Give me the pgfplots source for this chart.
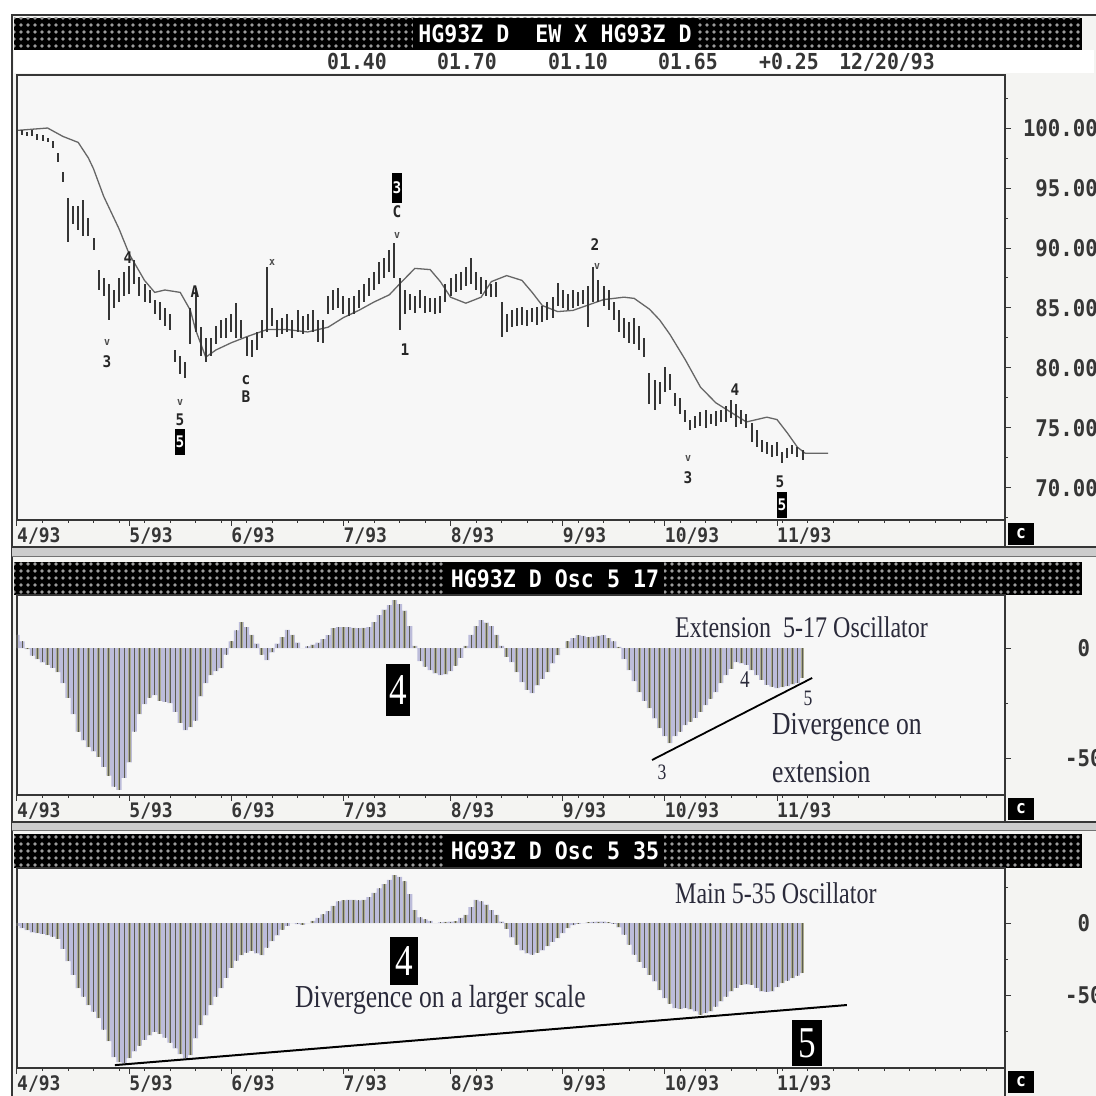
\documentclass[border=0pt]{standalone}
\usepackage{pgfplots}
\pgfplotsset{compat=1.18}
\usepackage{pgfplotstable}
\usepackage{fontspec}
\setmainfont{Liberation Serif}
\newfontfamily\mono{DejaVu Sans Mono}[FakeStretch=0.9]
\newfontfamily\ser{Liberation Serif}[FakeStretch=0.8]
\usetikzlibrary{patterns.meta}

\definecolor{bgc}{HTML}{F4F4F2}
\definecolor{plotbg}{HTML}{F7F7F7}
\definecolor{frame}{HTML}{363636}
\definecolor{pricec}{HTML}{353535}
\definecolor{mac}{HTML}{666666}
\definecolor{lav}{HTML}{BCBCDA}
\definecolor{khaki}{HTML}{ABAB8E}
\definecolor{stripe}{HTML}{5C5C50}
\definecolor{annot}{HTML}{2A2A3A}
\definecolor{barg}{HTML}{9C9C9C}

\newcommand\mf[1]{\mono\bfseries\fontsize{#1}{#1}\selectfont}
\newcommand\sr[1]{\ser\fontsize{#1}{#1}\selectfont}

% daily high/low of HG93Z
\pgfplotstableread{
i lo hi
0 99.5 99.9
1 99.4 99.8
2 99.3 99.7
3 99.3 99.8
4 99.0 99.5
5 98.9 99.4
6 98.8 99.2
7 98.3 98.9
8 97.2 97.9
9 95.5 96.3
10 90.5 94.2
11 92.0 93.5
12 91.5 93.5
13 91.0 94.0
14 91.0 92.5
15 89.8 90.8
16 86.5 88.2
17 86.0 87.5
18 84.0 87.0
19 85.0 86.5
20 85.5 87.5
21 86.0 88.0
22 86.2 88.5
23 87.0 89.0
24 86.0 87.6
25 85.5 87.0
26 85.4 86.5
27 84.5 85.7
28 84.0 85.5
29 83.5 85.0
30 83.2 84.5
31 80.5 81.5
32 79.5 81.0
33 79.2 80.5
34 82.0 85.0
35 83.0 86.7
36 81.0 83.4
37 80.5 82.5
38 81.0 82.5
39 82.0 83.5
40 82.5 84.0
41 82.5 84.2
42 83.0 84.5
43 82.5 85.4
44 82.5 84.0
45 81.0 82.6
46 80.9 82.3
47 81.5 83.0
48 82.5 84.0
49 83.0 88.4
50 83.5 85.0
51 82.6 84.0
52 82.8 84.2
53 83.0 84.5
54 82.5 84.0
55 83.0 84.8
56 82.8 84.3
57 83.2 84.5
58 83.0 84.8
59 82.2 84.0
60 82.1 84.0
61 84.5 86.0
62 84.8 86.5
63 85.0 86.7
64 84.5 86.0
65 84.3 85.8
66 84.5 86.0
67 85.0 86.5
68 85.5 87.0
69 86.0 87.5
70 86.5 88.0
71 87.0 88.8
72 87.5 89.2
73 88.0 89.8
74 87.5 90.4
75 83.2 87.5
76 84.5 86.5
77 84.8 86.2
78 84.6 86.0
79 85.0 86.5
80 84.6 86.0
81 84.7 85.8
82 84.5 85.8
83 84.6 86.0
84 85.5 87.0
85 86.0 87.5
86 86.3 87.8
87 86.5 88.0
88 86.8 88.4
89 87.0 89.2
90 86.5 88.0
91 86.2 87.6
92 86.0 87.3
93 85.9 87.0
94 85.9 87.2
95 82.6 85.5
96 83.0 84.5
97 83.4 84.8
98 83.5 85.0
99 83.6 85.1
100 83.5 84.8
101 83.8 85.0
102 83.6 85.1
103 83.8 85.2
104 84.0 85.5
105 84.2 85.9
106 85.2 87.1
107 85.0 86.5
108 84.8 86.2
109 85.0 86.5
110 85.2 86.3
111 85.3 86.5
112 83.4 86.8
113 85.5 88.4
114 85.5 87.3
115 85.2 86.8
116 84.8 86.5
117 84.0 85.5
118 83.0 84.8
119 82.5 84.2
120 82.1 83.8
121 82.0 84.2
122 81.5 83.5
123 80.9 82.5
124 77.0 79.6
125 76.5 79.0
126 77.0 78.8
127 78.0 80.1
128 78.2 79.5
129 76.8 77.9
130 76.2 77.5
131 75.5 76.5
132 74.8 75.7
133 75.0 76.0
134 75.2 76.3
135 75.0 76.5
136 75.3 76.2
137 75.2 76.4
138 75.5 76.5
139 75.5 76.8
140 75.8 77.3
141 75.1 77.0
142 75.3 76.5
143 75.0 76.2
144 73.8 75.4
145 73.4 74.8
146 73.0 74.0
147 72.8 73.8
148 72.6 73.6
149 72.7 73.8
150 72.1 73.0
151 72.5 73.3
152 72.8 73.6
153 72.6 73.4
154 72.3 73.2
}\price

% moving average
\pgfplotstableread{
i ma
0 99.8
3 99.9
6 100.0
9 99.3
12 98.8
14 97.5
15 96.6
17 94.3
20 91.6
22 89.5
25 87.3
27 86.3
29 86.5
32 86.3
34 84.8
35 83.2
37 80.9
39 81.5
42 82.1
45 82.6
49 83.2
53 83.2
57 83.0
61 83.4
64 84.2
67 84.8
70 85.5
73 86.1
75 87.0
78 88.3
81 88.2
83 87.2
85 85.9
88 85.4
91 85.9
93 87.2
96 87.7
99 87.3
101 86.3
103 85.2
106 84.7
109 84.8
111 85.1
115 85.7
119 85.9
121 85.8
124 84.9
126 84.0
128 82.8
131 80.7
134 78.4
137 77.1
140 76.3
143 75.5
145 75.7
147 75.9
149 75.7
151 74.6
153 73.4
154.5 72.9
159 72.9
}\mavg

% oscillator 5-17
\pgfplotstableread{
i v
0 60
1 30
2 -5
3 -35
4 -50
5 -65
6 -77
7 -90
8 -110
9 -160
10 -227
11 -300
12 -380
13 -420
14 -450
15 -470
16 -495
17 -540
18 -580
19 -630
20 -645
21 -590
22 -520
23 -380
24 -300
25 -255
26 -225
27 -214
28 -240
29 -245
30 -250
31 -290
32 -340
33 -373
34 -360
35 -330
36 -220
37 -160
38 -123
39 -105
40 -91
41 -30
42 30
43 80
44 118
45 95
46 60
47 20
48 -30
49 -55
50 -20
51 20
52 50
53 82
54 60
55 25
56 0
57 8
58 15
59 25
60 40
61 59
62 90
63 95
64 95
65 95
66 92
67 91
68 92
69 95
70 118
71 150
72 175
73 195
74 218
75 200
76 170
77 100
78 10
79 -60
80 -85
81 -100
82 -115
83 -123
84 -120
85 -105
86 -80
87 -45
88 10
89 60
90 100
91 127
92 115
93 100
94 60
95 10
96 -40
97 -64
98 -110
99 -155
100 -190
101 -205
102 -170
103 -140
104 -109
105 -70
106 -32
107 0
108 30
109 45
110 59
111 55
112 50
113 52
114 56
115 59
116 45
117 30
118 5
119 -50
120 -100
121 -150
122 -200
123 -240
124 -273
125 -320
126 -364
127 -400
128 -432
129 -400
130 -380
131 -350
132 -335
133 -318
134 -290
135 -259
136 -230
137 -200
138 -160
139 -123
140 -95
141 -64
142 -70
143 -77
144 -100
145 -123
146 -145
147 -168
148 -175
149 -182
150 -178
151 -173
152 -165
153 -159
154 -136
}\oscA

% oscillator 5-35
\pgfplotstableread{
i v
0 -20
1 -35
2 -50
3 -65
4 -70
5 -75
6 -83
7 -95
8 -110
9 -180
10 -264
11 -360
12 -451
13 -510
14 -569
15 -615
16 -659
17 -740
18 -819
19 -930
20 -965
21 -972
22 -937
23 -890
24 -850
25 -810
26 -780
27 -755
28 -770
29 -795
30 -830
31 -870
32 -910
33 -937
34 -916
35 -800
36 -708
37 -640
38 -569
39 -510
40 -451
41 -380
42 -312
43 -260
44 -222
45 -205
46 -194
47 -210
48 -222
49 -170
50 -125
51 -85
52 -46
53 -20
54 0
55 -8
56 -12
57 0
58 15
59 35
60 60
61 83
62 120
63 150
64 158
65 160
66 160
67 158
68 160
69 180
70 210
71 240
72 270
73 300
74 333
75 320
76 290
77 200
78 90
79 40
80 25
81 15
82 0
83 5
84 8
85 10
86 12
87 35
88 56
89 110
90 160
91 150
92 127
93 90
94 56
95 10
96 -40
97 -100
98 -150
99 -190
100 -210
101 -220
102 -205
103 -190
104 -160
105 -130
106 -104
107 -70
108 -35
109 -15
110 -5
111 0
112 5
113 8
114 10
115 10
116 5
117 -5
118 -30
119 -81
120 -150
121 -220
122 -270
123 -312
124 -360
125 -405
126 -465
127 -521
128 -560
129 -590
130 -595
131 -590
132 -600
133 -613
134 -636
135 -625
136 -613
137 -580
138 -544
139 -510
140 -475
141 -450
142 -428
143 -425
144 -428
145 -450
146 -475
147 -478
148 -475
149 -445
150 -417
151 -400
152 -382
153 -365
154 -347
}\oscB

\pgfplotsset{
  panel/.style={
    anchor=south west, scale only axis, width=988pt,
    xmin=0, xmax=193.7,
    axis background/.style={fill=plotbg},
    axis line style={draw=frame, line width=1.4pt},
    xtick={0,22,42,64,85,107,127,149},
    xticklabels={4/93,5/93,6/93,7/93,8/93,9/93,10/93,11/93},
    minor xtick={5,10,...,190},
    xtick pos=bottom, ytick pos=right,
    tick align=outside,
    major tick length=6pt, minor tick length=3pt,
    tick style={frame, line width=1pt},
    xticklabel style={anchor=north west, inner sep=0pt, xshift=0pt, yshift=-1pt, text=frame, font=\mf{20}},
    yticklabel style={inner sep=0pt, text=frame, font=\mf{23}},
    filter discard warning=false,
  },
  osc/.style={
    panel, height=200pt,
    ytick={-500,0}, yticklabels={-500,\phantom{-}0},
    yticklabel style={anchor=west, xshift=54pt},
  },
}

\newcommand\titlebar[4]{%
  \fill[black] (14,#1) rectangle (1082,#2);
  \fill[pattern={Dots[distance=7pt,radius=1.9pt]}, pattern color=barg] (14,#1) rectangle (1082,#2);
  \node[fill=black, text=white, inner xsep=5pt, inner ysep=0pt, minimum height=#4] at (555,{(#1+#2)/2}) {\mf{24}#3};
}
\newcommand\cbox[1]{%
  \fill[black] (1008,#1) rectangle (1034,{#1+22});
  \node[text=white, font=\mf{18}] at (1021,{#1+11}) {c};
}

\begin{document}
\begin{tikzpicture}[x=1pt,y=1pt]
\useasboundingbox (0,0) rectangle (1096,1096);
\fill[white] (0,0) rectangle (1096,1096);
\fill[bgc] (12,0) rectangle (1096,1081);

% frame
\draw[frame, line width=2pt] (12,0) -- (12,1081) -- (1096,1081);

% header rows
\titlebar{1046}{1078}{HG93Z D~~EW X HG93Z D}{32pt}
\fill[white] (14,1023) rectangle (1094,1046);
\foreach \xx/\tt in {357/01.40, 467/01.70, 578/01.10, 688/01.65, 789/+0.25, 887/12\slash 20\slash 93}
  \node[font=\mf{22}, text=frame] at (\xx,1034) {\tt};

% ---------------- price panel ----------------
\begin{axis}[panel, at={(17pt,576pt)}, height=445pt,
  ymin=67.33, ymax=104.42,
  ytick={70,75,...,100},
  yticklabels={70.00,75.00,80.00,85.00,90.00,95.00,100.00},
  minor ytick={67.5,72.5,...,102.5},
  yticklabel style={anchor=east, xshift=87pt},
]
\addplot[mac, line width=1.3pt] table[x=i, y=ma]{\mavg};
\addplot[only marks, mark=*, mark size=0pt, pricec,
  error bars/.cd, y dir=both, y explicit, error mark=none,
  error bar style={line width=2pt, pricec}]
  table[x=i, y expr=(\thisrow{lo}+\thisrow{hi})/2, y error expr=(\thisrow{hi}-\thisrow{lo})/2]{\price};
\end{axis}
\draw[frame, line width=1.4pt] (1005,549) -- (1005,576);
\cbox{551}

% wave labels on price chart
\begin{scope}[every node/.style={font=\mf{16}, text=black!85, inner sep=1pt}]
\node at (107,734) {3};
\node at (128,838) {4};
\node at (195,804) {A};
\node at (180,676) {5};
\node[fill=black, text=white, minimum height=26pt] at (180,654) {5};
\node at (246,716) {c};
\node at (246,699) {B};
\node[fill=black, text=white, minimum height=30pt] at (397,908) {3};
\node at (397,884) {C};
\node at (405,746) {1};
\node at (595,851) {2};
\node at (688,618) {3};
\node at (735,706) {4};
\node at (780,614) {5};
\node[fill=black, text=white, minimum height=26pt] at (782,591) {5};
\end{scope}
\begin{scope}[every node/.style={font=\mf{11}, text=black!70, inner sep=0pt}]
\node at (107,754) {v};
\node at (180,694) {v};
\node at (397,861) {v};
\node at (688,638) {v};
\node at (272,834) {x};
\node at (597,830) {v};
\end{scope}

% divider
\fill[black!20] (12,539) rectangle (1096,549);
\draw[frame, line width=1.2pt] (12,549) -- (1096,549);
\draw[frame!70, line width=1pt] (12,539) -- (1096,539);

% ---------------- oscillator 5-17 ----------------
\titlebar{501}{534}{HG93Z D Osc 5 17}{33pt}
\begin{axis}[osc, at={(17pt,301pt)},
  ymin=-668, ymax=241, minor ytick={-250,250}]
\addplot[fill=lav, draw=none, const plot mark mid] table[x=i, y=v]{\oscA} \closedcycle;
\addplot[ycomb, khaki, line width=2.8pt, each nth point=2] table[x=i, y=v]{\oscA};
\addplot[ycomb, stripe, line width=0.8pt] table[x=i, y=v]{\oscA};
\addplot[black, line width=1.8pt] coordinates {(124.5,-509) (155.9,-136)};
\end{axis}
\draw[frame, line width=1.4pt] (1005,274) -- (1005,301);
\cbox{276}

\begin{scope}[every node/.style={text=annot, inner sep=0pt}]
\node[anchor=west, font=\sr{30}] at (675,469) {Extension~~5-17 Oscillator};
\node[fill=black, text=white, font=\sr{44}, minimum width=24pt, minimum height=52pt] at (398,406) {4};
\node[font=\sr{24}] at (745,416) {4};
\node[font=\sr{22}] at (808,398) {5};
\node[font=\sr{22}] at (662,324) {3};
\node[anchor=west, font=\sr{32}] at (772,369) {Divergence on};
\node[anchor=west, font=\sr{32}] at (772,324) {extension};
\end{scope}

\fill[black!20] (12,265) rectangle (1096,274);
\draw[frame, line width=1.2pt] (12,274) -- (1096,274);
\draw[frame!70, line width=1pt] (12,265) -- (1096,265);

% ---------------- oscillator 5-35 ----------------
\titlebar{228}{262}{HG93Z D Osc 5 35}{34pt}
\begin{axis}[osc, at={(17pt,28pt)},
  ymin=-1006, ymax=382, minor ytick={-750,-250,250}]
\addplot[fill=lav, draw=none, const plot mark mid] table[x=i, y=v]{\oscB} \closedcycle;
\addplot[ycomb, khaki, line width=2.8pt, each nth point=2] table[x=i, y=v]{\oscB};
\addplot[ycomb, stripe, line width=0.8pt] table[x=i, y=v]{\oscB};
\addplot[black, line width=2pt] coordinates {(19.2,-986) (162.7,-569)};
\end{axis}
\draw[frame, line width=1.4pt] (1005,0) -- (1005,28);
\cbox{3}

\begin{scope}[every node/.style={text=annot, inner sep=0pt}]
\node[anchor=west, font=\sr{30}] at (675,203) {Main 5-35 Oscillator};
\node[fill=black, text=white, font=\sr{44}, minimum width=28pt, minimum height=48pt] at (404,135) {4};
\node[anchor=west, font=\sr{32}] at (295,96) {Divergence on a larger scale};
\node[fill=black, text=white, font=\sr{44}, minimum width=30pt, minimum height=46pt] at (807,53) {5};
\end{scope}
\end{tikzpicture}
\end{document}
